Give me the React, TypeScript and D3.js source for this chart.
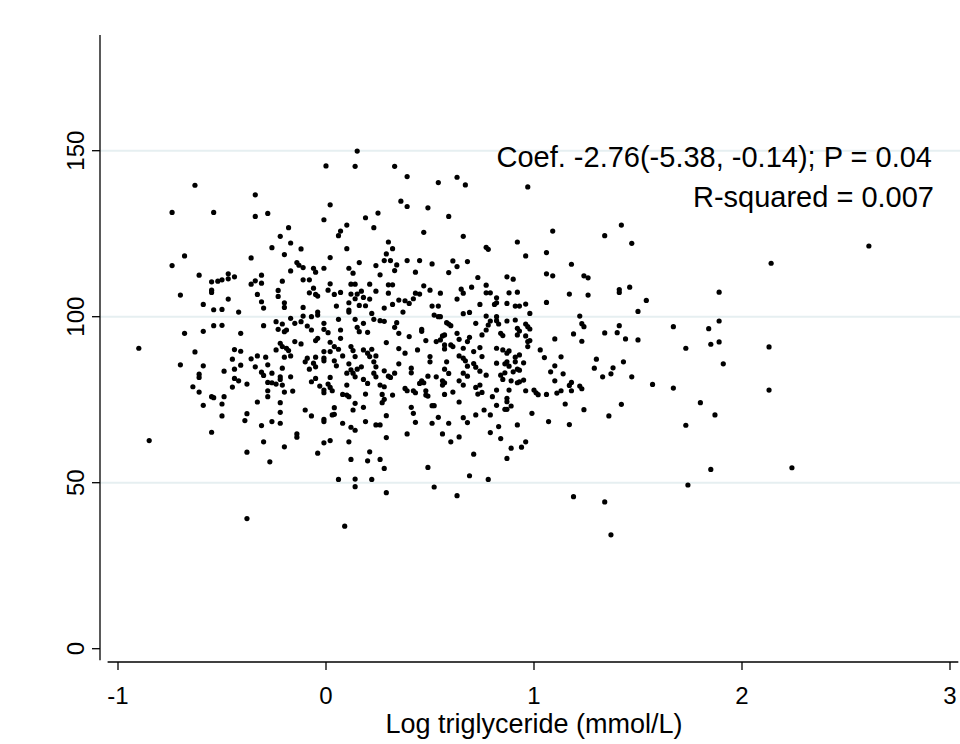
import * as d3 from 'd3'

const points: [number, number][] = [
  [-0.63,139.6],[-0.74,131.4],[-0.54,131.4],[-0.34,136.7],[-0.34,130.2],[-0.28,131.1],
  [0.15,149.9],[0.00,145.4],[0.14,145.3],[0.33,145.3],[0.39,142.2],[0.02,133.7],[-0.01,129.2],[0.36,134.8],[0.39,133.2],[0.25,131.2],[0.19,129.8],[0.23,126.8],[0.10,127.6],[0.07,125.8],[0.06,124.4],[-0.18,126.8],[-0.22,124.2],[-0.17,122.2],[-0.26,120.8],[-0.12,120.4],[0.10,120.5],[0.30,122.5],[0.32,120.5],
  [0.54,140.4],[0.63,142.0],[0.67,139.7],[0.97,139.1],[0.49,132.8],[0.59,130.2],[0.47,125.4],[0.66,124.2],[0.77,120.9],[0.78,120.3],[0.92,122.5],
  [-0.68,118.3],[-0.74,115.4],[-0.36,117.7],[-0.61,112.5],[-0.55,110.5],[-0.52,110.7],[-0.50,111.1],[-0.47,112.9],[-0.47,111.4],[-0.44,112.0],[-0.31,112.5],[-0.36,109.8],[-0.34,110.8],[-0.31,110.1],[-0.55,108.0],[-0.55,107.3],[-0.70,106.5],[-0.47,105.3],[-0.33,106.7],[-0.31,104.5],[-0.30,102.6],[-0.59,103.7],[-0.54,102.1],[-0.50,102.2],[-0.42,101.4],[-0.68,95.0],[-0.59,95.6],[-0.54,97.3],[-0.50,97.4],[-0.41,95.0],[-0.30,97.3],[-0.90,90.5],[-0.63,89.4],[-0.44,90.1],[-0.41,89.6],[-0.45,87.2],[-0.36,87.3],[-0.33,88.2],[-0.29,87.8],
  [-0.70,85.5],[-0.59,85.2],[-0.61,82.7],[-0.61,81.7],[-0.49,83.6],[-0.44,84.2],[-0.41,85.4],[-0.34,84.9],[-0.28,85.5],[-0.31,83.3],[-0.30,82.3],[-0.44,81.4],[-0.42,80.7],[-0.38,79.7],[-0.45,78.8],[-0.64,78.9],[-0.61,77.3],[-0.55,75.9],[-0.54,75.6],[-0.49,75.9],[-0.28,77.7],[-0.28,80.2],[-0.28,75.9],[-0.59,73.3],[-0.50,73.7],[-0.33,74.3],[-0.50,70.1],[-0.38,70.8],[-0.39,68.7],[-0.31,67.2],[-0.55,65.2],[-0.85,62.7],[-0.30,62.3],[-0.38,59.2],[-0.27,56.3],
  [0.06,51.0],[0.14,51.1],[0.14,48.8],[0.22,51.0],[0.29,47.0],[0.52,48.7],[0.63,46.1],[0.69,52.1],[0.78,51.0],[-0.38,39.2],[0.09,36.9],
  [1.09,125.8],[1.34,124.4],[1.42,127.6],[1.47,122.1],[1.18,115.8],[1.09,112.3],[1.24,112.3],[1.26,111.7],[1.17,106.8],[1.26,106.5],[1.41,108.2],[1.41,107.3],[1.46,108.9],[1.54,104.9],[1.50,101.6],[1.22,100.2],[1.23,97.9],[1.24,97.0],[1.19,94.8],[1.10,93.3],[1.23,92.6],[1.34,95.1],[1.40,95.2],[1.41,97.3],[1.44,93.3],[1.50,93.0],[1.67,97.0],[1.73,90.5],[1.84,96.4],[1.89,98.7],[1.85,91.7],[1.89,92.4],[1.89,107.4],[1.13,87.9],[1.10,85.2],[1.08,83.4],[1.14,82.8],[1.10,80.7],[1.30,87.2],[1.29,84.5],[1.38,84.6],[1.37,82.8],[1.33,81.9],[1.43,86.4],[1.47,81.9],[1.57,79.6],[1.67,78.5],[1.17,79.3],[1.18,80.2],[1.22,79.1],[1.23,78.3],[1.18,77.7],[1.13,77.7],[1.11,77.0],[1.15,73.7],[1.24,72.0],[1.17,67.5],[1.36,70.1],[1.42,73.6],[1.80,74.1],[1.87,70.4],[1.73,67.3],[1.85,54.0],[1.74,49.3],[1.19,45.8],[1.34,44.2],[1.37,34.3],
  [2.61,121.3],[2.14,116.1],[1.91,85.8],[2.13,90.9],[2.13,77.9],[2.24,54.5],
  [-0.20,118.7],[0.02,117.8],[0.29,118.9],[0.28,116.9],[0.31,116.9],[0.34,115.6],[0.39,116.9],[0.16,116.3],[0.24,115.4],[-0.14,116.3],[-0.13,115.5],[-0.11,114.8],[-0.06,114.6],[-0.05,113.4],[-0.01,114.6],[-0.17,113.8],[0.11,114.6],[0.13,113.1],[0.33,113.9],[0.26,112.6],[-0.11,111.1],[-0.08,111.1],[-0.21,110.7],[0.02,109.9],[0.12,109.8],[0.14,109.8],[0.21,109.8],[0.30,109.6],[0.32,109.6],[-0.23,107.9],[-0.23,106.1],[-0.06,108.6],[-0.08,107.2],[-0.05,106.7],[-0.04,106.2],[0.01,108.0],[0.04,106.7],[0.07,107.3],[0.12,106.8],[0.15,106.8],[0.17,107.7],[0.18,105.8],[0.24,107.7],[0.14,105.4],[0.21,105.3],[0.30,107.1],[0.35,105.0],[0.38,104.8],[0.40,104.0],[-0.20,104.2],[-0.20,102.8],[-0.11,102.8],[-0.04,101.4],[-0.04,100.5],[0.05,103.2],[0.11,104.2],[0.11,102.0],[0.11,101.4],[0.16,103.4],[0.19,103.3],[0.22,101.0],[0.28,102.6],[0.32,103.7],[0.37,101.4],[-0.24,98.5],[-0.21,97.8],[-0.17,99.5],[-0.15,98.0],[-0.12,98.5],[-0.11,100.2],[-0.07,100.0],[-0.01,98.0],[0.06,99.2],[0.14,99.2],[0.18,98.0],[0.23,99.2],[0.26,98.8],[0.28,98.6],[0.34,98.2],[0.33,96.8],[0.35,95.0],[-0.23,96.2],[-0.20,95.5],[-0.19,96.0],[-0.09,97.2],[-0.07,96.0],[-0.01,96.2],[0.01,95.2],[0.07,96.0],[0.15,96.8],[0.16,95.5],[0.20,95.3],[0.07,93.5],[-0.05,92.8],[-0.04,93.5],[-0.15,92.5],[-0.12,91.8],[-0.22,92.0],[-0.21,91.0],[-0.24,90.0],[-0.19,90.5],[-0.18,89.8],[-0.20,87.8],[0.02,92.3],[0.04,91.0],[-0.01,89.5],[0.02,89.5],[0.06,90.2],[0.12,91.0],[0.13,89.8],[0.14,88.0],[0.18,90.0],[0.20,89.0],[0.21,88.0],[0.22,90.2],[0.24,88.2],[0.29,92.2],[0.35,90.4],[0.38,89.0],[-0.09,87.5],[-0.05,87.8],[-0.01,87.5],[-0.17,88.2],[0.08,88.2],
  [-0.21,84.5],[-0.26,83.0],[-0.22,81.9],[-0.22,81.1],[-0.17,81.9],[-0.26,80.1],[-0.24,79.7],[-0.21,79.4],[-0.20,77.3],[-0.16,77.6],[-0.08,84.2],[-0.10,86.4],[-0.06,86.0],[-0.05,84.9],[-0.01,86.7],[0.04,86.7],[0.05,85.2],[-0.05,81.4],[-0.07,80.4],[-0.03,79.1],[-0.01,77.9],[-0.01,77.1],[0.01,79.7],[0.02,78.7],[0.03,77.7],[0.02,81.7],[0.11,85.8],[0.12,84.0],[0.13,83.0],[0.15,84.2],[0.14,81.9],[0.10,83.0],[0.17,84.9],[0.18,81.1],[0.10,79.4],[0.08,76.6],[0.10,76.4],[0.11,75.9],[0.20,79.9],[0.19,76.7],[0.23,86.4],[0.24,84.9],[0.23,83.0],[0.24,81.9],[0.28,83.7],[0.30,82.1],[0.31,81.7],[0.33,83.0],[0.35,85.8],[0.26,79.4],[0.28,78.9],[0.27,76.6],[0.32,76.4],[0.28,75.1],[0.27,74.1],[0.38,78.4],[0.39,77.7],[-0.22,74.1],[-0.22,71.2],[-0.26,68.4],[-0.22,67.9],[-0.10,71.9],[-0.07,70.1],[0.04,72.6],[0.03,70.4],[0.04,70.6],[-0.01,68.4],[-0.01,69.1],[0.08,67.9],[0.13,71.9],[0.14,73.9],[0.18,72.7],[0.12,66.7],[0.14,65.8],[0.19,68.4],[0.24,67.4],[0.26,67.4],[0.29,70.2],[-0.14,64.7],[-0.14,63.7],[-0.01,62.0],[0.02,62.7],[0.11,62.3],[0.29,63.6],[0.39,64.7],[-0.20,60.8],[-0.04,58.9],[0.21,59.3],[0.12,57.0],[0.20,56.6],[0.26,57.0],[0.28,54.3],
  [0.96,118.3],[1.06,119.3],[0.45,116.9],[0.51,115.9],[0.43,113.4],[0.61,116.8],[0.63,115.1],[0.68,116.6],[0.59,113.3],[0.73,111.8],[0.87,112.0],[0.90,111.3],[1.06,112.9],[0.47,109.3],[0.43,107.1],[0.45,106.8],[0.42,105.4],[0.50,108.0],[0.55,107.1],[0.65,108.3],[0.66,107.1],[0.63,105.3],[0.70,108.9],[0.77,109.5],[0.77,107.2],[0.79,107.2],[0.88,107.2],[0.92,107.4],[0.82,105.7],[0.74,103.7],[0.81,103.7],[0.82,104.2],[0.87,104.0],[0.91,103.2],[0.93,103.2],[0.96,103.8],[1.06,104.3],[0.51,103.2],[0.54,103.2],[0.98,101.0],[0.52,100.5],[0.54,100.0],[0.55,100.0],[0.66,100.9],[0.69,101.3],[0.77,100.2],[0.82,100.0],[0.82,98.8],[0.87,98.7],[0.91,99.0],[0.96,97.8],[0.97,97.0],[0.98,96.3],[0.72,98.0],[0.79,98.7],[0.78,97.5],[0.58,98.2],[0.59,97.8],[0.60,97.3],[0.46,96.2],[0.46,95.6],[0.40,94.0],[0.63,95.0],[0.75,94.5],[0.77,96.0],[0.83,97.8],[0.84,95.0],[0.85,94.3],[0.92,96.5],[0.93,95.7],[0.92,94.5],[0.96,94.2],[0.98,92.8],[0.56,94.2],[0.57,94.5],[0.55,93.0],[0.48,92.8],[0.53,92.5],[0.64,93.2],[0.69,93.8],[0.68,92.5],[0.57,91.5],[0.60,91.5],[0.61,91.0],[0.57,90.3],[0.66,90.5],[0.74,90.7],[0.71,89.5],[0.82,90.5],[0.85,90.0],[0.87,89.0],[0.88,89.7],[0.97,92.5],[0.97,91.0],[1.03,90.0],[0.44,90.0],[0.50,88.0],[0.64,88.2],[0.66,87.5],[0.75,88.0],[0.91,87.8],[0.93,88.5],[1.05,87.7],
  [0.50,86.4],[0.58,86.4],[0.67,86.7],[0.68,85.1],[0.71,85.9],[0.72,84.8],[0.57,84.2],[0.59,82.9],[0.74,83.6],[0.82,86.0],[0.86,85.8],[0.87,86.4],[0.88,85.1],[0.91,86.4],[0.95,86.1],[0.41,84.5],[0.41,83.1],[0.49,82.1],[0.53,81.9],[0.46,80.7],[0.45,79.9],[0.47,80.1],[0.56,80.7],[0.57,80.1],[0.56,79.4],[0.66,83.0],[0.68,82.1],[0.77,82.4],[0.84,82.4],[0.85,81.1],[0.86,83.1],[0.89,80.7],[0.90,83.4],[0.92,84.2],[0.93,83.9],[0.92,80.1],[0.93,80.4],[0.95,80.9],[0.64,80.7],[0.66,79.4],[0.72,78.7],[0.74,79.4],[0.73,76.7],[0.75,77.2],[0.82,77.9],[0.88,77.9],[0.96,77.7],[1.00,77.9],[1.01,77.1],[1.02,76.5],[1.06,76.6],[0.42,77.7],[0.43,77.1],[0.48,77.7],[0.48,76.4],[0.49,76.1],[0.57,76.6],[0.61,77.3],[0.80,75.9],[0.87,75.4],[0.87,74.4],[0.64,74.3],[0.82,73.3],[0.86,72.1],[0.87,72.1],[0.89,73.1],[0.41,72.7],[0.42,70.9],[0.51,73.2],[0.52,73.2],[0.76,71.9],[0.72,70.4],[0.79,70.4],[0.99,70.9],[1.07,68.4],[0.54,69.7],[0.66,69.6],[0.68,68.1],[0.43,68.2],[0.51,67.9],[0.59,67.9],[0.83,66.9],[0.92,67.4],[0.56,64.7],[0.79,65.1],[0.64,63.8],[0.60,62.3],[0.84,63.3],[0.96,62.3],[0.89,60.4],[0.94,60.7],[0.71,58.6],[0.87,57.3],[0.49,54.6],
]

const xTicks = [-1, 0, 1, 2, 3]
const yTicks = [0, 50, 100, 150]
const gridValues = [50, 100, 150]
const xTitle = 'Log triglyceride (mmol/L)'
const notes = ['Coef. -2.76(-5.38, -0.14); P = 0.04', 'R-squared = 0.007']

const W = 960
const H = 744
const font = '"Liberation Sans", Arial, sans-serif'

export default function App() {
  const x = d3.scaleLinear().domain([-1, 3]).range([118, 950])
  const y = d3.scaleLinear().domain([0, 150]).range([648.7, 150.7])

  const axisLeft = 100
  const axisBottom = 662

  return (
    <svg
      width={W}
      height={H}
      style={{ position: 'absolute', left: 0, top: 0, background: '#fff' }}
      fontFamily={font}
    >
      {/* grid */}
      {gridValues.map((v) => (
        <line key={'g' + v} x1={axisLeft} x2={W} y1={y(v)} y2={y(v)} stroke='#e6eff1' strokeWidth={2} />
      ))}

      {/* y axis */}
      <line x1={axisLeft} x2={axisLeft} y1={35} y2={y(-3.5)} stroke='#000' strokeWidth={1.3} />
      {yTicks.map((v) => (
        <g key={'y' + v}>
          <line x1={axisLeft - 8} x2={axisLeft} y1={y(v)} y2={y(v)} stroke='#000' strokeWidth={1.3} />
          <text
            transform={`translate(84, ${y(v)}) rotate(-90)`}
            textAnchor='middle'
            fontSize={24}
          >
            {v}
          </text>
        </g>
      ))}

      {/* x axis */}
      <line x1={x(-1.05)} x2={x(3.04)} y1={axisBottom} y2={axisBottom} stroke='#000' strokeWidth={1.3} />
      {xTicks.map((v) => (
        <g key={'x' + v}>
          <line x1={x(v)} x2={x(v)} y1={axisBottom} y2={axisBottom + 8} stroke='#000' strokeWidth={1.3} />
          <text x={x(v)} y={704} textAnchor='middle' fontSize={24}>
            {v}
          </text>
        </g>
      ))}
      <text x={x(1)} y={733} textAnchor='middle' fontSize={27}>
        {xTitle}
      </text>

      {/* points */}
      <g>
        {points.map((d, i) => (
          <circle key={i} cx={x(d[0])} cy={y(d[1])} r={2.6} fill='#000' />
        ))}
      </g>

      {/* annotations */}
      <text x={932} y={167} textAnchor='end' fontSize={29}>
        {notes[0]}
      </text>
      <text x={934} y={207} textAnchor='end' fontSize={29}>
        {notes[1]}
      </text>
    </svg>
  )
}
